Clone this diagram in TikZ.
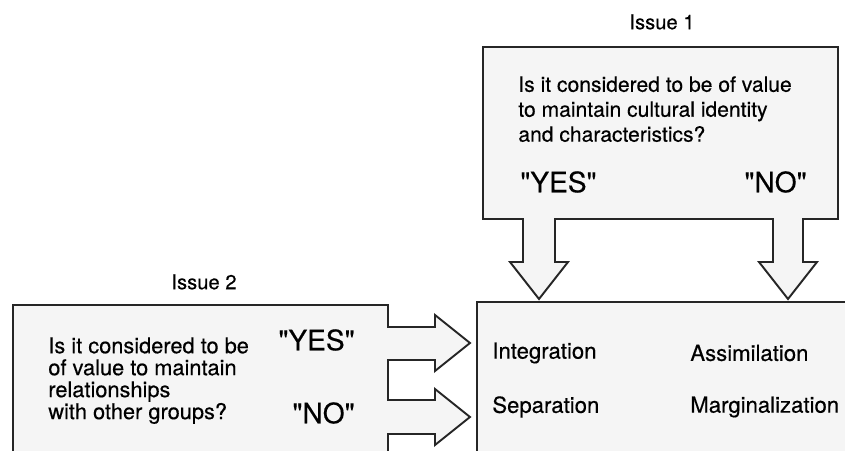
\documentclass[tikz,border=0pt]{standalone}
\usepackage{fontspec}
\setmainfont{TeX Gyre Heros}[FakeBold=0.35]
\begin{document}
\begin{tikzpicture}[x=0.02cm,y=-0.02cm,
  shadebox/.style={draw=black!85,line width=1.1pt,fill=black!4,line join=miter},
  txt/.style={anchor=west,inner sep=0pt,font=\fontsize{12}{14.2}\selectfont},
  answer/.style={anchor=west,inner sep=0pt,font=\fontsize{16}{18}\selectfont},
  issue/.style={inner sep=0pt,font=\fontsize{11.5}{13}\selectfont}]
  \useasboundingbox (0,0) rectangle (845,450);
  \clip (0,0) rectangle (845,450);

  % issue 1 box, arrows down
  \draw[shadebox] (483,47) -- (838,47) -- (838,219) -- (803,219) -- (803,262) -- (817,262)
    -- (788,299) -- (759,262) -- (773,262) -- (773,219) -- (555,219) -- (555,262)
    -- (568,262) -- (539,299) -- (510,262) -- (523,262) -- (523,219) -- (483,219) -- cycle;
  % issue 2 box, arrows right
  \draw[shadebox] (13,305) -- (388,305) -- (388,327) -- (435,327) -- (435,315) -- (470,343)
    -- (435,371) -- (435,360) -- (388,360) -- (388,400) -- (435,400) -- (435,389)
    -- (470,417) -- (435,445) -- (435,434) -- (388,434) -- (388,470) -- (13,470) -- cycle;
  % outcomes
  \draw[shadebox] (477,302) rectangle (870,470);

  \node[issue] (issA) at (662,22) {Issue 1};
  \node[issue] (issB) at (204,282) {Issue 2};

  \node[txt,anchor=north west,align=left] (qA) at (518,76)
    {Is it considered to be of value\\to maintain cultural identity\\and characteristics?};
  \node[answer] (yesA) at (520,182) {\textquotedbl YES\textquotedbl};
  \node[answer,anchor=east] (noA) at (807,182) {\textquotedbl NO\textquotedbl};

  \node[txt,anchor=north west,align=left,font=\fontsize{12.4}{12.5}\selectfont] (qB) at (48,337)
    {Is it considered to be\\of value to maintain\\relationships\\with other groups?};
  \node[answer,anchor=east] (yesB) at (355,340) {\textquotedbl YES\textquotedbl};
  \node[answer,anchor=east] (noB) at (355,413) {\textquotedbl NO\textquotedbl};

  \node[txt,font=\fontsize{12.6}{14}\selectfont] (integ) at (492,353) {Integration};
  \node[txt,font=\fontsize{12.6}{14}\selectfont] (assim) at (690,353) {Assimilation};
  \node[txt,font=\fontsize{12.6}{14}\selectfont] (separ) at (492,407) {Separation};
  \node[txt,font=\fontsize{12.6}{14}\selectfont] (margi) at (690,407) {Marginalization};
\end{tikzpicture}
\end{document}
